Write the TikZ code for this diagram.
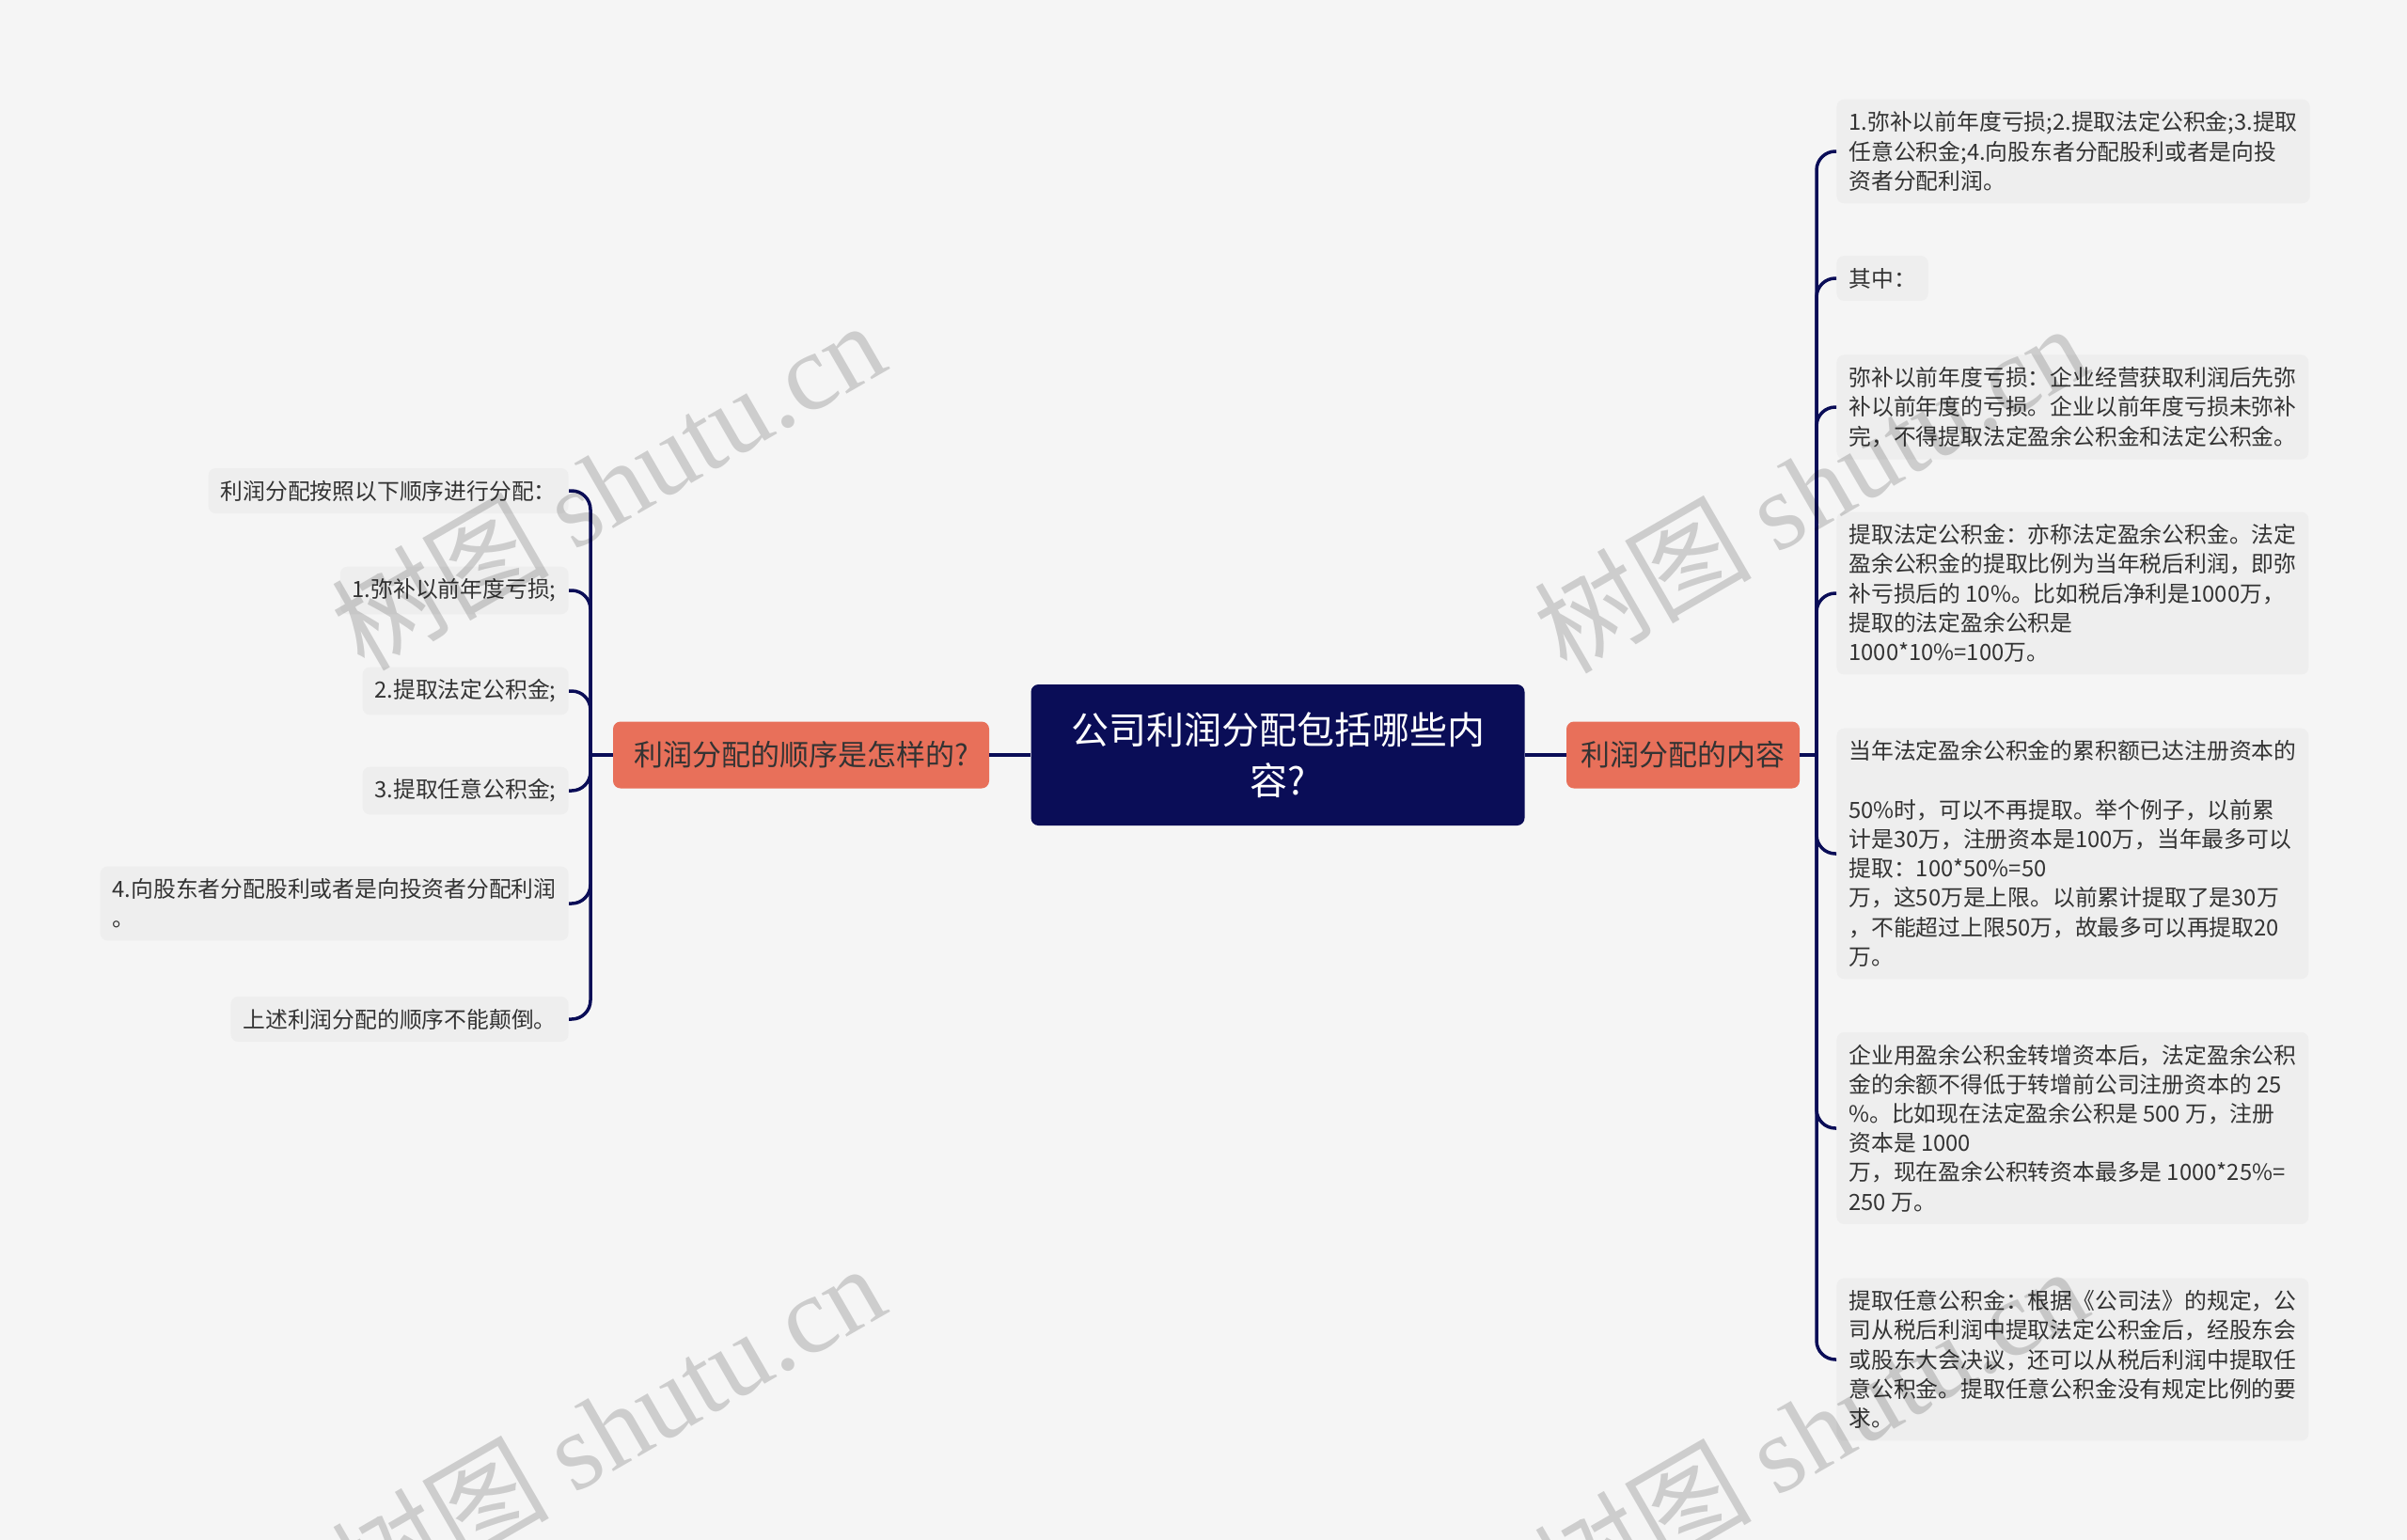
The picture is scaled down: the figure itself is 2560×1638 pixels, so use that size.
\documentclass[tikz,border=0pt]{standalone}
\usepackage{fontspec}
\setmainfont{Noto Sans CJK SC}
\newfontfamily\wmfont{Liberation Serif}
\definecolor{bgcol}{HTML}{F5F5F5}
\definecolor{leafcol}{HTML}{EEEEEE}
\definecolor{navy}{HTML}{0A0D57}
\definecolor{coral}{HTML}{E8705A}
\definecolor{inkcol}{HTML}{333333}

\begin{document}
\begin{tikzpicture}[x=0.5pt,y=-0.5pt,
  leaf/.style={fill=leafcol,rounded corners=4pt,inner xsep=6.5pt,inner ysep=6.5pt,
    align=left,text=inkcol,font=\fontsize{11.9pt}{15.6pt}\selectfont},
  mid/.style={fill=coral,rounded corners=4pt,minimum height=35.5pt,inner sep=0pt,
    text=inkcol,font=\fontsize{15.5pt}{20pt}\selectfont},
  link/.style={draw=navy,line width=1.75pt,rounded corners=10pt}]
\fill[bgcol] (0,0) rectangle (2560,1638);
\useasboundingbox (0,0) rectangle (2560,1638);

% centre and the two branches
\node[fill=navy,rounded corners=4pt,minimum width=262.5pt,minimum height=75pt,
  align=center,text=white,font=\fontsize{20pt}{27pt}\selectfont] (root) at (1359,803) {公司利润分配包括哪些内\\容?};
\node[mid,minimum width=200pt] (order) at (852,803) {利润分配的顺序是怎样的?};
\node[mid,minimum width=124pt] (content) at (1790,803) {利润分配的内容};
\coordinate (ltrunk) at (628,803);
\coordinate (rtrunk) at (1932,803);

% left leaves
\node[leaf,anchor=east] (o1) at (605,522) {利润分配按照以下顺序进行分配：};
\node[leaf,anchor=east] (o2) at (605,628) {1.弥补以前年度亏损;};
\node[leaf,anchor=east] (o3) at (605,735) {2.提取法定公积金;};
\node[leaf,anchor=east] (o4) at (605,841) {3.提取任意公积金;};
\node[leaf,anchor=east] (o5) at (605,961) {4.向股东者分配股利或者是向投资者分配利润\\。};
\node[leaf,anchor=east] (o6) at (605,1084) {上述利润分配的顺序不能颠倒。};

% right leaves
\node[leaf,anchor=west] (c1) at (1953,161) {1.弥补以前年度亏损;2.提取法定公积金;3.提取\\任意公积金;4.向股东者分配股利或者是向投\\资者分配利润。};
\node[leaf,anchor=west] (c2) at (1953,296) {其中：};
\node[leaf,anchor=west] (c3) at (1953,433) {弥补以前年度亏损：企业经营获取利润后先弥\\补以前年度的亏损。企业以前年度亏损未弥补\\完，不得提取法定盈余公积金和法定公积金。};
\node[leaf,anchor=west] (c4) at (1953,631) {提取法定公积金：亦称法定盈余公积金。法定\\盈余公积金的提取比例为当年税后利润，即弥\\补亏损后的 10\%。比如税后净利是1000万，\\提取的法定盈余公积是\\1000*10\%=100万。};
\node[leaf,anchor=west] (c5) at (1953,908) {当年法定盈余公积金的累积额已达注册资本的\\[15.6pt]50\%时，可以不再提取。举个例子，以前累\\计是30万，注册资本是100万，当年最多可以\\提取：100*50\%=50\\万，这50万是上限。以前累计提取了是30万\\，不能超过上限50万，故最多可以再提取20\\万。};
\node[leaf,anchor=west] (c6) at (1953,1200) {企业用盈余公积金转增资本后，法定盈余公积\\金的余额不得低于转增前公司注册资本的 25\\\%。比如现在法定盈余公积是 500 万，注册\\资本是 1000\\万，现在盈余公积转资本最多是 1000*25\%=\\250 万。};
\node[leaf,anchor=west] (c7) at (1953,1446) {提取任意公积金：根据《公司法》的规定，公\\司从税后利润中提取法定公积金后，经股东会\\或股东大会决议，还可以从税后利润中提取任\\意公积金。提取任意公积金没有规定比例的要\\求。};

% connectors
\draw[link] (order.east) -- (root.west);
\draw[link] (root.east) -- (content.west);
\draw[link] (order.west) -- (ltrunk);
\draw[link] (content.east) -- (rtrunk);
\foreach \k in {1,...,6}
  \draw[link] (ltrunk) |- (o\k.east);
\foreach \k in {1,...,7}
  \draw[link] (rtrunk) |- (c\k.west);

% watermark
\foreach \wx/\wy [count=\i] in {646/515,1925/518,646/1518,1925/1521}
  \node[rotate=30,text=black,text opacity=0.16,font=\fontsize{58pt}{58pt}\selectfont] (wm\i) at (\wx,\wy) {树图 {\wmfont shutu.cn}};
\end{tikzpicture}
\end{document}
